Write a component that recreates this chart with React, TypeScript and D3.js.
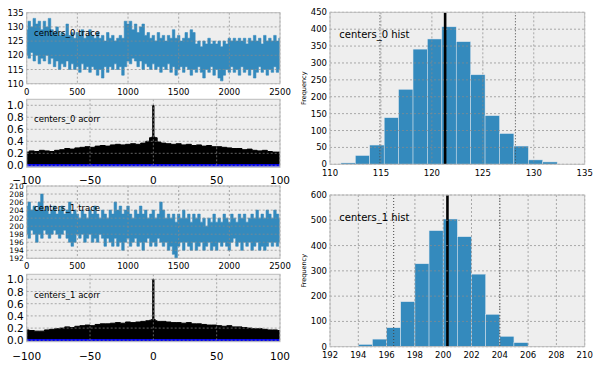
import React, { useEffect, useRef } from "react";
import * as d3 from "d3";

// trace envelopes, one value every 25 iterations (0..2500)
const traceStep = 25;
const trace0Hi = [
  129, 132, 130, 133, 131, 132, 129, 132, 130, 133, 129, 128, 130, 127, 128, 127, 131, 127, 128, 126,
  128, 127, 129, 126, 127, 129, 127, 126, 128, 126, 127, 125, 128, 126, 127, 125, 126, 127, 126, 132,
  131, 132, 129, 131, 128, 130, 131, 127, 128, 126, 127, 125, 128, 126, 127, 125, 127, 126, 129, 126,
  127, 125, 126, 128, 126, 129, 128, 124, 125, 123, 125, 124, 126, 124, 125, 124, 125, 123, 125, 124,
  126, 125, 126, 125, 126, 125, 126, 124, 126, 125, 127, 125, 126, 124, 127, 125, 126, 125, 127, 125,
  126,
];
const trace0Lo = [
  120, 119, 121, 118, 120, 117, 119, 118, 120, 117, 119, 116, 118, 115, 117, 116, 118, 115, 117, 115,
  116, 114, 117, 115, 116, 114, 116, 115, 113, 115, 112, 116, 114, 116, 115, 117, 115, 116, 113, 116,
  118, 117, 119, 118, 116, 118, 115, 117, 116, 115, 117, 115, 116, 114, 116, 115, 117, 114, 116, 113,
  115, 116, 114, 116, 115, 113, 115, 114, 116, 114, 112, 115, 114, 116, 113, 115, 112, 111, 113, 115,
  114, 116, 114, 115, 113, 116, 114, 115, 113, 115, 112, 114, 116, 114, 115, 113, 115, 114, 116, 114,
  115,
];
const trace1Hi = [
  205, 206, 204, 205, 204, 206, 208, 204, 205, 203, 204, 205, 203, 204, 205, 203, 204, 206, 203, 204,
  203, 202, 204, 203, 202, 204, 203, 205, 203, 202, 204, 203, 202, 204, 203, 206, 204, 205, 203, 204,
  205, 203, 202, 204, 203, 205, 203, 204, 202, 203, 204, 202, 203, 206, 204, 202, 203, 202, 203, 201,
  203, 202, 204, 202, 203, 201, 203, 202, 203, 201, 202, 200, 202, 201, 203, 201, 202, 201, 203, 202,
  201, 203, 202, 201, 203, 202, 203, 201, 202, 203, 202, 204, 202, 203, 202, 204, 203, 202, 204, 203,
  202,
];
const trace1Lo = [
  198, 197, 199, 198, 196, 198, 197, 199, 198, 197, 198, 199, 198, 197, 198, 199, 197, 196, 195, 196,
  198, 197, 198, 196, 197, 198, 196, 197, 196, 198, 197, 195, 197, 196, 195, 197, 195, 196, 194, 196,
  197, 195, 196, 197, 195, 196, 194, 196, 197, 195, 196, 195, 197, 196, 195, 196, 194, 195, 193, 192,
  195, 196, 194, 196, 195, 194, 196, 194, 195, 196, 194, 195, 196, 194, 195, 194, 196, 195, 196, 195,
  194, 196, 197, 195, 196, 194, 196, 195, 196, 194, 195, 196, 194, 195, 194, 195, 196, 195, 196, 195,
  196,
];

// autocorrelation
const acorrLags = [
  -100, -96, -92, -88, -84, -80, -76, -72, -68, -64, -60, -56, -52, -48, -44, -40, -36, -32, -28, -24,
  -20, -16, -12, -8, -4, -2, -1, 0, 1, 2, 4, 8, 12, 16, 20, 24, 28, 32, 36, 40, 44, 48, 52, 56, 60,
  64, 68, 72, 76, 80, 84, 88, 92, 96, 100,
];
const acorr0 = [
  0.22, 0.24, 0.23, 0.25, 0.24, 0.23, 0.25, 0.26, 0.28, 0.27, 0.29, 0.3, 0.31, 0.3, 0.32, 0.33, 0.32,
  0.34, 0.35, 0.34, 0.35, 0.36, 0.35, 0.37, 0.4, 0.46, 0.47, 1.0, 0.47, 0.46, 0.39, 0.37, 0.36, 0.35,
  0.36, 0.34, 0.35, 0.33, 0.34, 0.32, 0.33, 0.31, 0.31, 0.3, 0.29, 0.28, 0.28, 0.26, 0.27, 0.25, 0.24,
  0.25, 0.23, 0.22, 0.22,
];
const acorr1 = [
  0.17, 0.16, 0.15, 0.15, 0.17, 0.18, 0.19, 0.2, 0.22, 0.21, 0.23, 0.24, 0.25, 0.24, 0.26, 0.27, 0.27,
  0.28, 0.29, 0.28, 0.3, 0.29, 0.3, 0.31, 0.32, 0.33, 0.34, 1.0, 0.34, 0.32, 0.31, 0.31, 0.3, 0.29,
  0.29, 0.28, 0.29, 0.27, 0.27, 0.26, 0.25, 0.25, 0.24, 0.23, 0.24, 0.22, 0.22, 0.21, 0.2, 0.19, 0.19,
  0.18, 0.17, 0.17, 0.16,
];

// histograms
const hist0Edges = [
  111.07, 112.49, 113.9, 115.32, 116.73, 118.15, 119.56, 120.98, 122.39, 123.81, 125.22, 126.64,
  128.05, 129.47, 130.88, 132.3,
];
const hist0Counts = [4, 26, 57, 138, 222, 341, 371, 407, 363, 265, 144, 91, 54, 13, 7];
const hist0Mean = 121.3;
const hist0Hpd = [114.9, 128.2];

const hist1Edges = [194, 195, 196, 197, 198, 199, 200, 201, 202, 203, 204, 205, 206];
const hist1Counts = [9, 30, 75, 178, 328, 459, 505, 435, 287, 128, 41, 16];
const hist1Mean = 200.3;
const hist1Hpd = [196.5, 204.0];

const traceTicks = [0, 500, 1000, 1500, 2000, 2500];
const acorrTicksX = [-100, -50, 0, 50, 100];
const acorrTicksY = [0, 0.2, 0.4, 0.6, 0.8, 1.0];
const trace0TicksY = [110, 115, 120, 125, 130, 135];
const trace1TicksY = [192, 194, 196, 198, 200, 202, 204, 206, 208, 210];
const hist0TicksX = [110, 115, 120, 125, 130, 135];
const hist0TicksY = [0, 50, 100, 150, 200, 250, 300, 350, 400, 450];
const hist1TicksX = [192, 194, 196, 198, 200, 202, 204, 206, 208, 210];
const hist1TicksY = [0, 100, 200, 300, 400, 500, 600];

const BLUE = "#348ABD";
const FONT = "DejaVu Sans, sans-serif";

function App() {
  const svgRef = useRef(null);

  useEffect(() => {
    const svg = d3.select(svgRef.current);
    svg.selectAll("*").remove();

    let clipId = 0;

    // draws background, content, grid, frame, ticks and the panel label
    function panel(opts) {
      const { box, xDomain, yDomain, xTicks, yTicks, xFmt, yFmt, tickSize, yTickSize, xOff, label, labelSize, labelPos, draw } = opts;
      const x = d3.scaleLinear().domain(xDomain).range([box.x0, box.x1]);
      const y = d3.scaleLinear().domain(yDomain).range([box.y1, box.y0]);
      const g = svg.append("g");

      g.append("rect")
        .attr("x", box.x0)
        .attr("y", box.y0)
        .attr("width", box.x1 - box.x0)
        .attr("height", box.y1 - box.y0)
        .attr("fill", "#eeeeee");

      const id = "clip" + clipId++;
      g.append("clipPath")
        .attr("id", id)
        .append("rect")
        .attr("x", box.x0)
        .attr("y", box.y0)
        .attr("width", box.x1 - box.x0)
        .attr("height", box.y1 - box.y0);
      const content = g.append("g").attr("clip-path", `url(#${id})`);
      draw(content, x, y);

      // grid on top
      const grid = g.append("g").attr("stroke", "#8a8a8a").attr("stroke-width", 0.7).attr("stroke-dasharray", "2,2");
      xTicks.forEach((t) => {
        grid.append("line").attr("x1", x(t)).attr("x2", x(t)).attr("y1", box.y0).attr("y2", box.y1);
      });
      yTicks.forEach((t) => {
        grid.append("line").attr("x1", box.x0).attr("x2", box.x1).attr("y1", y(t)).attr("y2", y(t));
      });

      g.append("rect")
        .attr("x", box.x0)
        .attr("y", box.y0)
        .attr("width", box.x1 - box.x0)
        .attr("height", box.y1 - box.y0)
        .attr("fill", "none")
        .attr("stroke", "#bcbcbc")
        .attr("stroke-width", 1);

      g.append("g")
        .selectAll("text")
        .data(xTicks)
        .join("text")
        .attr("x", (d) => x(d))
        .attr("y", box.y1 + xOff)
        .attr("text-anchor", "middle")
        .attr("dominant-baseline", "central")
        .style("font-family", FONT)
        .style("font-size", tickSize + "px")
        .text(xFmt);

      g.append("g")
        .selectAll("text")
        .data(yTicks)
        .join("text")
        .attr("x", box.x0 - 3)
        .attr("y", (d) => y(d))
        .attr("text-anchor", "end")
        .attr("dominant-baseline", "central")
        .style("font-family", FONT)
        .style("font-size", (yTickSize || tickSize) + "px")
        .text(yFmt);

      g.append("text")
        .attr("x", labelPos[0])
        .attr("y", labelPos[1])
        .attr("dominant-baseline", "central")
        .style("font-family", FONT)
        .style("font-size", labelSize + "px")
        .text(label);
      return g;
    }

    const drawTrace = (hi, lo) => (c, x, y) => {
      const area = d3
        .area()
        .curve(d3.curveStep)
        .x((d, i) => x(i * traceStep))
        .y0((d, i) => y(lo[i]))
        .y1((d) => y(d));
      c.append("path").datum(hi).attr("fill", BLUE).attr("stroke", BLUE).attr("stroke-width", 0.6).attr("d", area);
    };

    const drawAcorr = (vals) => (c, x, y) => {
      const area = d3
        .area()
        .curve(d3.curveStep)
        .x((d, i) => x(acorrLags[i]))
        .y0(y(0))
        .y1((d) => y(d));
      c.append("path").datum(vals).attr("fill", "black").attr("stroke", "black").attr("stroke-width", 1).attr("d", area);
      c.append("line")
        .attr("x1", x(-100))
        .attr("x2", x(100))
        .attr("y1", y(0))
        .attr("y2", y(0))
        .attr("stroke", "#0000ee")
        .attr("stroke-width", 2.5);
    };

    const drawHist = (edges, counts, mean, hpd) => (c, x, y) => {
      c.selectAll("rect.bar")
        .data(counts)
        .join("rect")
        .attr("class", "bar")
        .attr("x", (d, i) => x(edges[i]))
        .attr("width", (d, i) => x(edges[i + 1]) - x(edges[i]))
        .attr("y", (d) => y(d))
        .attr("height", (d) => y(0) - y(d))
        .attr("fill", BLUE)
        .attr("stroke", "#dde6ee")
        .attr("stroke-width", 0.5);
      hpd.forEach((v) => {
        c.append("line")
          .attr("x1", x(v))
          .attr("x2", x(v))
          .attr("y1", y.range()[1])
          .attr("y2", y.range()[0])
          .attr("stroke", "#444")
          .attr("stroke-width", 1)
          .attr("stroke-dasharray", "1,2");
      });
      c.append("line")
        .attr("x1", x(mean))
        .attr("x2", x(mean))
        .attr("y1", y.range()[1])
        .attr("y2", y.range()[0])
        .attr("stroke", "black")
        .attr("stroke-width", 2.6);
    };

    const intFmt = (d) => d3.format("d")(d);
    const f1 = (d) => d3.format(".1f")(d);

    // left column
    panel({
      box: { x0: 26.7, x1: 280, y0: 12.7, y1: 83.7 },
      xDomain: [0, 2500],
      yDomain: [110, 135],
      xTicks: traceTicks,
      yTicks: trace0TicksY,
      xFmt: intFmt,
      yFmt: intFmt,
      tickSize: 8.5,
      xOff: 8,
      label: "centers_0 trace",
      labelSize: 8.5,
      labelPos: [34, 32.7],
      draw: drawTrace(trace0Hi, trace0Lo),
    });
    panel({
      box: { x0: 26.7, x1: 280, y0: 99.3, y1: 167.3 },
      xDomain: [-100, 100],
      yDomain: [-0.033, 1.1],
      xTicks: acorrTicksX,
      yTicks: acorrTicksY,
      xFmt: intFmt,
      yFmt: f1,
      tickSize: 10.5,
      xOff: 13,
      label: "centers_0 acorr",
      labelSize: 8.5,
      labelPos: [34, 119.3],
      draw: drawAcorr(acorr0),
    });
    panel({
      box: { x0: 26.7, x1: 280, y0: 186, y1: 258.3 },
      xDomain: [0, 2500],
      yDomain: [192, 210],
      xTicks: traceTicks,
      yTicks: trace1TicksY,
      xFmt: intFmt,
      yFmt: intFmt,
      tickSize: 8.5,
      yTickSize: 7.5,
      xOff: 7.5,
      label: "centers_1 trace",
      labelSize: 8.5,
      labelPos: [34, 208.3],
      draw: drawTrace(trace1Hi, trace1Lo),
    });
    panel({
      box: { x0: 26.7, x1: 280, y0: 274.3, y1: 341.7 },
      xDomain: [-100, 100],
      yDomain: [-0.023, 1.082],
      xTicks: acorrTicksX,
      yTicks: acorrTicksY,
      xFmt: intFmt,
      yFmt: f1,
      tickSize: 10.5,
      xOff: 14,
      label: "centers_1 acorr",
      labelSize: 8.5,
      labelPos: [34, 295],
      draw: drawAcorr(acorr1),
    });

    // right column
    panel({
      box: { x0: 330, x1: 584.7, y0: 12.3, y1: 164.3 },
      xDomain: [110, 135],
      yDomain: [0, 450],
      xTicks: hist0TicksX,
      yTicks: hist0TicksY,
      xFmt: intFmt,
      yFmt: intFmt,
      tickSize: 8.5,
      xOff: 8.4,
      label: "centers_0 hist",
      labelSize: 10,
      labelPos: [339.3, 34.3],
      draw: drawHist(hist0Edges, hist0Counts, hist0Mean, hist0Hpd),
    });
    panel({
      box: { x0: 330, x1: 584.7, y0: 195, y1: 346.7 },
      xDomain: [192, 210],
      yDomain: [0, 600],
      xTicks: hist1TicksX,
      yTicks: hist1TicksY,
      xFmt: intFmt,
      yFmt: intFmt,
      tickSize: 8.5,
      xOff: 8.3,
      label: "centers_1 hist",
      labelSize: 10,
      labelPos: [339.3, 217.7],
      draw: drawHist(hist1Edges, hist1Counts, hist1Mean, hist1Hpd),
    });

    // Frequency labels
    [88.3, 270.8].forEach((cy) => {
      svg
        .append("text")
        .attr("transform", `translate(303.5,${cy}) rotate(-90)`)
        .attr("text-anchor", "middle")
        .attr("dominant-baseline", "central")
        .style("font-family", FONT)
        .style("font-size", "6.5px")
        .text("Frequency");
    });
  }, []);

  return (
    <svg
      ref={svgRef}
      width={598}
      height={368}
      style={{ position: "absolute", left: 0, top: 0, background: "white" }}
    ></svg>
  );
}

export default App;
